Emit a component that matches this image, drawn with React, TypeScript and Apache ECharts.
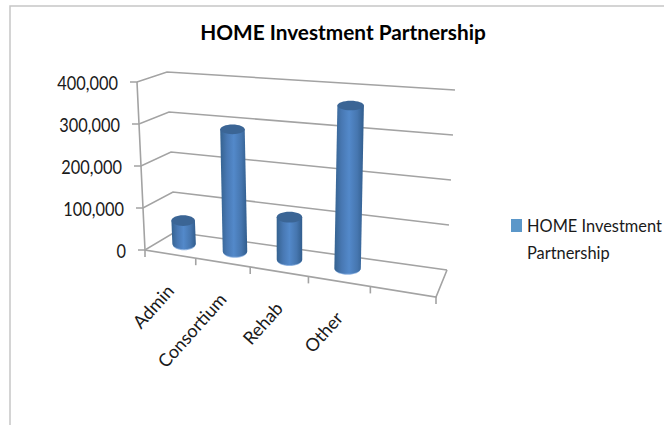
import React, { useEffect, useRef } from "react";
import * as echarts from "echarts";

const chartTitle = "HOME Investment Partnership";
const seriesName = "HOME Investment Partnership";
const categories = ["Admin", "Consortium", "Rehab", "Other", ""];
const values = [58000, 290000, 100000, 368000];
const yTicks = [0, 100000, 200000, 300000, 400000];

const FONT = "Lato, Carlito, sans-serif";
type Pt = [number, number];
const FL0: Pt = [145, 250], FR0: Pt = [436, 297], BL0: Pt = [175, 232], BR0: Pt = [447, 270];
const FL4: Pt = [137, 82], FR4: Pt = [446, 107], BL4: Pt = [167, 72], BR4: Pt = [455, 90];
const lerp = (a: number, b: number, t: number) => a + (b - a) * t;
const lerpP = (a: Pt, b: Pt, t: number): Pt => [lerp(a[0], b[0], t), lerp(a[1], b[1], t)];
// perspective of the box: u along categories, h along values, d along depth
function project(u: number, h: number, d: number): Pt {
  const w = u - 0.16 * u * (1 - u);
  const f = lerpP(lerpP(FL0, FR0, w), lerpP(FL4, FR4, w), h);
  const b = lerpP(lerpP(BL0, BR0, w), lerpP(BL4, BR4, w), h);
  return lerpP(f, b, d);
}
const toUnit = (p: number[], cs: any) => ({
  u: (p[0] - cs.x) / cs.width,
  h: (cs.y + cs.height - p[1]) / cs.height,
});
const GRID = "#a3a3a3";
const lineStyle = { stroke: GRID, lineWidth: 1.6, fill: "none" };

function renderValueFrame(params: any, api: any) {
  const v = api.value(1);
  const { h } = toUnit(api.coord([0, v]), params.coordSys);
  const f = project(0, h, 0), b = project(0, h, 1), r = project(1, h, 1);
  const children: any[] = [
    { type: "polyline", shape: { points: [[f[0] - 7, f[1]], f, b, r] }, style: lineStyle },
    {
      type: "text", x: f[0] - 19, y: f[1] + 1, scaleX: 0.91, scaleY: 1.05,
      style: {
        text: v.toLocaleString("en-US"), align: "right", verticalAlign: "middle",
        font: `18px ${FONT}`, fill: "#1a1a1a",
      },
    },
  ];
  if (params.dataIndex === 0) {
    const fr = project(1, 0, 0), br = project(1, 0, 1), top = project(0, 1, 0);
    children.push(
      { type: "polyline", shape: { points: [top, f, fr, br] }, style: lineStyle },
    );
  }
  return { type: "group", children };
}

function renderCategoryAxis(params: any, api: any) {
  const i = api.value(0);
  const cs = params.coordSys;
  const band = api.size([1, 0])[0];
  const c = api.coord([i, 0]);
  const { u } = toUnit([c[0], c[1]], cs);
  const uL = u - band / cs.width / 2;
  const uR = u + band / cs.width / 2;
  const children: any[] = [];
  const tick = (uu: number) => {
    const p = project(uu, 0, 0);
    return { type: "line", shape: { x1: p[0], y1: p[1], x2: p[0], y2: p[1] + 7 }, style: lineStyle };
  };
  children.push(tick(uL));
  if (i === categories.length - 1) children.push(tick(uR));
  const name = categories[i];
  if (name) {
    const p = project(u, 0, 0);
    children.push({
      type: "text", x: p[0], y: p[1] + 33, rotation: 0.84,
      style: { text: name, align: "right", verticalAlign: "middle", font: `18px ${FONT}`, fill: "#1a1a1a" },
    });
  }
  return { type: "group", children };
}

function renderCylinder(params: any, api: any) {
  const i = api.value(0);
  const v = api.value(1);
  const cs = params.coordSys;
  const base = toUnit(api.coord([i, 0]), cs);
  const topU = toUnit(api.coord([i, v]), cs);
  const b = project(base.u, base.h, 0.5);
  const t = project(topU.u, topU.h, 0.5);
  const rx = 11.5 + 2.5 * base.u;
  const ry = 5.5;
  const ryTop = 5.6 - 0.9 * topU.h;
  const pts: number[][] = [[t[0] - rx, t[1]]];
  for (let k = 0; k <= 24; k++) {
    const a = Math.PI - (Math.PI * k) / 24;
    pts.push([b[0] + rx * Math.cos(a), b[1] - 1 + ry * Math.sin(a)]);
  }
  pts.push([t[0] + rx, t[1]]);
  const grad = new echarts.graphic.LinearGradient(0, 0, 1, 0, [
    { offset: 0, color: "#35628f" },
    { offset: 0.25, color: "#4878b3" },
    { offset: 0.5, color: "#5389ca" },
    { offset: 0.78, color: "#4676af" },
    { offset: 1, color: "#315d8d" },
  ]);
  return {
    type: "group",
    children: [
      { type: "ellipse", shape: { cx: b[0], cy: b[1], rx: rx - 0.5, ry }, style: { fill: "#8fb3e0" } },
      { type: "polygon", shape: { points: pts }, style: { fill: grad } },
      { type: "ellipse", shape: { cx: t[0], cy: t[1], rx, ry: ryTop }, style: { fill: "#3b6595" } },
    ],
  };
}

export default function App() {
  const ref = useRef<HTMLDivElement>(null);
  useEffect(() => {
    document.body.style.margin = "0";
    const chart = echarts.init(ref.current!, undefined, { renderer: "svg" });
    chart.setOption({
      animation: false,
      backgroundColor: "#ffffff",
      title: {
        text: chartTitle, left: 338, textAlign: "center", top: 16,
        textStyle: { fontFamily: FONT, fontSize: 20.8, fontWeight: "bold", color: "#000" },
      },
      legend: {
        left: 511, top: 185, orient: "vertical", padding: 0,
        itemWidth: 11, itemHeight: 13, itemGap: 0,
        data: [{ name: seriesName, icon: "rect" }],
        formatter: () => "\nHOME Investment\nPartnership",
        textStyle: { fontFamily: FONT, fontSize: 16.4, color: "#1a1a1a", lineHeight: 27 },
      },
      graphic: [
        {
          type: "polyline", silent: true,
          shape: { points: [[10, 425], [10, 6], [664, 6]] },
          style: { stroke: "#c6c6c6", lineWidth: 1.5, fill: "none" },
        },
      ],
      grid: { left: 145, top: 82, width: 291, height: 168 },
      xAxis: { type: "category", data: categories, show: false },
      yAxis: { type: "value", min: 0, max: 400000, interval: 100000, show: false },
      series: [
        { type: "custom", silent: true, data: yTicks.map((v) => [0, v]), renderItem: renderValueFrame, encode: { x: 0, y: 1 }, z: 1 },
        { type: "custom", silent: true, data: categories.map((_, i) => [i, 0]), renderItem: renderCategoryAxis, encode: { x: 0, y: 1 }, z: 1 },
        {
          type: "custom", name: seriesName,
          data: values.map((v, i) => [i, v]),
          renderItem: renderCylinder, encode: { x: 0, y: 1 }, z: 2,
          itemStyle: { color: "#5b97c9" },
        },
      ],
    });
    return () => chart.dispose();
  }, []);
  return <div ref={ref} style={{ width: 664, height: 425, position: "absolute", left: 0, top: 0 }} />;
}
